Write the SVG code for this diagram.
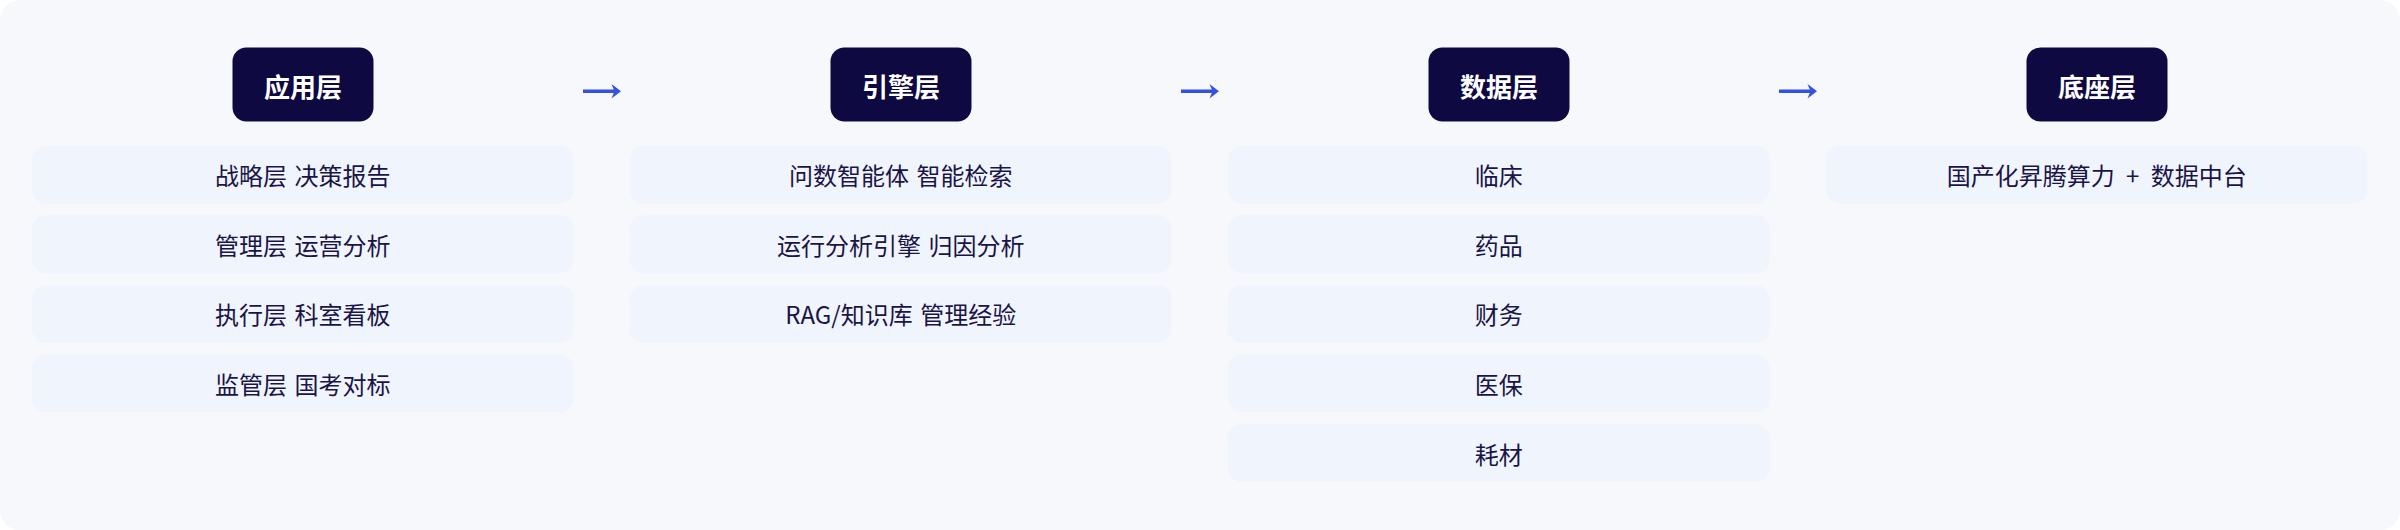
<svg xmlns="http://www.w3.org/2000/svg" width="2400" height="530" viewBox="0 0 2400 530">
  <defs>
    <style>
      .panel { fill: #f7f8fb; }
      .hdr { fill: #0e0940; }
      .hdr-t { font-family: "Noto Sans CJK SC", "Noto Sans", sans-serif; font-size: 26px; font-weight: 700; fill: #ffffff; text-anchor: middle; dominant-baseline: central; }
      .row { fill: #eff4fd; }
      .row-t { font-family: "Noto Sans CJK SC", "Noto Sans", sans-serif; font-size: 24px; font-weight: 400; fill: #1b1446; text-anchor: middle; dominant-baseline: central; word-spacing: 2px; }
      .wide { word-spacing: 6px; }
      .arrow { stroke: #3352e2; stroke-width: 3.4; fill: none; }
      .arrow-h { fill: #3352e2; }
    </style>
  </defs>
  <rect x="0" y="0" width="2400" height="530" fill="#ffffff"/>
  <rect class="panel" x="0" y="0" width="2400" height="530" rx="20" ry="20"/>

  <g id="connectors">
    <g id="arrow-1">
      <line class="arrow" x1="583" y1="91.3" x2="616" y2="91.3"/>
      <path class="arrow-h" d="M611.5,84 L621,91.3 L611.5,98.5 L614.5,91.3 Z"/>
    </g>
    <g id="arrow-2">
      <line class="arrow" x1="1181" y1="91.3" x2="1214" y2="91.3"/>
      <path class="arrow-h" d="M1209.5,84 L1219,91.3 L1209.5,98.5 L1212.5,91.3 Z"/>
    </g>
    <g id="arrow-3">
      <line class="arrow" x1="1779" y1="91.3" x2="1812" y2="91.3"/>
      <path class="arrow-h" d="M1807.5,84 L1817,91.3 L1807.5,98.5 L1810.5,91.3 Z"/>
    </g>
  </g>

  <g id="col-app">
    <g id="hdr-app">
      <rect class="hdr" x="232.5" y="47.5" width="141" height="74" rx="14"/>
      <text class="hdr-t" x="303" y="85">应用层</text>
    </g>
    <g id="app-1"><rect class="row" x="32" y="145.7" width="541.5" height="58" rx="14"/><text class="row-t" x="302.75" y="174.7">战略层 决策报告</text></g>
    <g id="app-2"><rect class="row" x="32" y="215.3" width="541.5" height="58" rx="14"/><text class="row-t" x="302.75" y="244.3">管理层 运营分析</text></g>
    <g id="app-3"><rect class="row" x="32" y="284.9" width="541.5" height="58" rx="14"/><text class="row-t" x="302.75" y="313.9">执行层 科室看板</text></g>
    <g id="app-4"><rect class="row" x="32" y="354.5" width="541.5" height="58" rx="14"/><text class="row-t" x="302.75" y="383.5">监管层 国考对标</text></g>
  </g>

  <g id="col-engine">
    <g id="hdr-engine">
      <rect class="hdr" x="830.5" y="47.5" width="141" height="74" rx="14"/>
      <text class="hdr-t" x="901" y="85">引擎层</text>
    </g>
    <g id="eng-1"><rect class="row" x="630" y="145.7" width="541.5" height="58" rx="14"/><text class="row-t" x="900.75" y="174.7">问数智能体 智能检索</text></g>
    <g id="eng-2"><rect class="row" x="630" y="215.3" width="541.5" height="58" rx="14"/><text class="row-t" x="900.75" y="244.3">运行分析引擎 归因分析</text></g>
    <g id="eng-3"><rect class="row" x="630" y="284.9" width="541.5" height="58" rx="14"/><text class="row-t" x="900.75" y="313.9">RAG/知识库 管理经验</text></g>
  </g>

  <g id="col-data">
    <g id="hdr-data">
      <rect class="hdr" x="1428.5" y="47.5" width="141" height="74" rx="14"/>
      <text class="hdr-t" x="1499" y="85">数据层</text>
    </g>
    <g id="data-1"><rect class="row" x="1228" y="145.7" width="541.5" height="58" rx="14"/><text class="row-t" x="1498.75" y="174.7">临床</text></g>
    <g id="data-2"><rect class="row" x="1228" y="215.3" width="541.5" height="58" rx="14"/><text class="row-t" x="1498.75" y="244.3">药品</text></g>
    <g id="data-3"><rect class="row" x="1228" y="284.9" width="541.5" height="58" rx="14"/><text class="row-t" x="1498.75" y="313.9">财务</text></g>
    <g id="data-4"><rect class="row" x="1228" y="354.5" width="541.5" height="58" rx="14"/><text class="row-t" x="1498.75" y="383.5">医保</text></g>
    <g id="data-5"><rect class="row" x="1228" y="424.1" width="541.5" height="58" rx="14"/><text class="row-t" x="1498.75" y="453.1">耗材</text></g>
  </g>

  <g id="col-base">
    <g id="hdr-base">
      <rect class="hdr" x="2026.5" y="47.5" width="141" height="74" rx="14"/>
      <text class="hdr-t" x="2097" y="85">底座层</text>
    </g>
    <g id="base-1"><rect class="row" x="1826" y="145.7" width="541.5" height="58" rx="14"/><text class="row-t wide" x="2096.75" y="174.7">国产化昇腾算力 + 数据中台</text></g>
  </g>
</svg>
